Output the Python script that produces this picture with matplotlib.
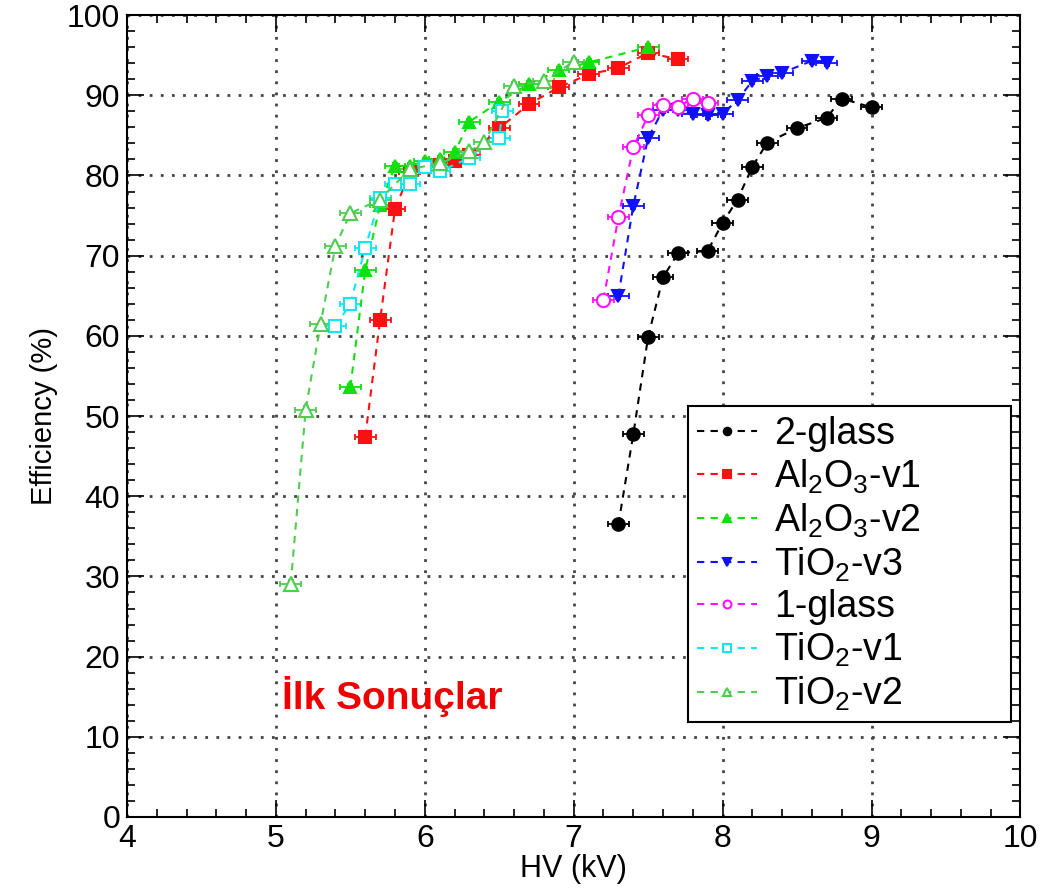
import matplotlib
matplotlib.use("Agg")
import matplotlib.pyplot as plt
from matplotlib.ticker import MultipleLocator

plt.rcParams['font.family'] = ['Liberation Sans', 'DejaVu Sans']
plt.rcParams['mathtext.fontset'] = 'custom'
plt.rcParams['mathtext.rm'] = 'Liberation Sans'

# ---- data ----
glass2_hv = [7.3, 7.4, 7.5, 7.6, 7.7, 7.9, 8.0, 8.1, 8.2, 8.3, 8.5, 8.7, 8.8, 9.0]
glass2_eff = [36.5, 47.7, 59.9, 67.3, 70.3, 70.6, 74.1, 77.0, 81.1, 84.1, 85.9, 87.2, 89.6, 88.5]

al1_hv = [5.6, 5.7, 5.8, 5.9, 6.0, 6.1, 6.2, 6.3, 6.5, 6.7, 6.9, 7.1, 7.3, 7.5, 7.7]
al1_eff = [47.4, 62.0, 75.8, 80.4, 81.0, 81.3, 81.8, 82.5, 85.9, 88.9, 91.0, 92.6, 93.4, 95.3, 94.5]

al2_hv = [5.5, 5.6, 5.7, 5.8, 5.9, 6.0, 6.1, 6.2, 6.3, 6.5, 6.7, 6.9, 7.1, 7.5]
al2_eff = [53.6, 68.2, 76.3, 81.2, 81.2, 81.8, 82.0, 82.9, 86.7, 89.2, 91.4, 93.1, 94.1, 96.0]

ti3_hv = [7.3, 7.4, 7.5, 7.6, 7.7, 7.8, 7.9, 8.0, 8.1, 8.2, 8.3, 8.4, 8.6, 8.7]
ti3_eff = [65.0, 76.2, 84.7, 88.2, 88.2, 87.7, 87.5, 87.7, 89.4, 91.8, 92.4, 92.8, 94.3, 94.0]

glass1_hv = [7.2, 7.3, 7.4, 7.5, 7.6, 7.7, 7.8, 7.9]
glass1_eff = [64.5, 74.8, 83.5, 87.5, 88.8, 88.6, 89.6, 89.0]

ti1_hv = [5.4, 5.5, 5.6, 5.7, 5.8, 5.9, 6.0, 6.1, 6.3, 6.5, 6.52]
ti1_eff = [61.2, 64.0, 71.0, 77.2, 78.9, 79.0, 81.0, 80.5, 82.2, 84.7, 88.0]

ti2_hv = [5.1, 5.2, 5.3, 5.4, 5.5, 5.7, 5.9, 6.1, 6.3, 6.4, 6.6, 6.8, 7.0]
ti2_eff = [29.1, 50.8, 61.5, 71.2, 75.3, 77.0, 80.8, 81.5, 83.0, 84.2, 91.2, 91.8, 94.2]

labels = ['2-glass',
          r'Al$_\mathregular{2}$O$_\mathregular{3}$-v1',
          r'Al$_\mathregular{2}$O$_\mathregular{3}$-v2',
          r'TiO$_\mathregular{2}$-v3',
          '1-glass',
          r'TiO$_\mathregular{2}$-v1',
          r'TiO$_\mathregular{2}$-v2']

series = [(glass2_hv, glass2_eff), (al1_hv, al1_eff), (al2_hv, al2_eff),
          (ti3_hv, ti3_eff), (glass1_hv, glass1_eff), (ti1_hv, ti1_eff),
          (ti2_hv, ti2_eff)]

styles = [
    dict(color='black', marker='o', mfc='black', ms=9),
    dict(color='#ff1010', marker='s', mfc='#ff1010', ms=8.5),
    dict(color='#10e010', marker='^', mfc='#10e010', ms=9),
    dict(color='#1010ff', marker='v', mfc='#1010ff', ms=9),
    dict(color='#ff10ff', marker='o', mfc='white', ms=9.5),
    dict(color='#10e8f0', marker='s', mfc='white', ms=9),
    dict(color='#50cc50', marker='^', mfc='white', ms=10),
]

fig = plt.figure(figsize=(10.45, 8.89), dpi=100)
ax = fig.add_axes([0.1215, 0.081, 0.855, 0.902])

handles = []
for (hv, eff), st, lab in zip(series, styles, labels):
    c = st['color']
    ax.errorbar(hv, eff, xerr=0.07, yerr=0.4, fmt='none', ecolor=c,
                elinewidth=1.3, capsize=2.5, capthick=1.3, zorder=3)
    h, = ax.plot(hv, eff, linestyle=(0, (3.5, 3)), linewidth=1.5, color=c,
                 marker=st['marker'], markersize=st['ms'],
                 markerfacecolor=st['mfc'], markeredgecolor=c,
                 markeredgewidth=1.5, label=lab, zorder=4)
    handles.append(h)

ax.set_xlim(4, 10)
ax.set_ylim(0, 100)
ax.xaxis.set_major_locator(MultipleLocator(1))
ax.xaxis.set_minor_locator(MultipleLocator(0.2))
ax.yaxis.set_major_locator(MultipleLocator(10))
ax.yaxis.set_minor_locator(MultipleLocator(2))
ax.tick_params(which='both', direction='in', top=True, right=True,
               labelsize=23, width=1.2)
ax.tick_params(which='major', length=12, pad=5)
ax.tick_params(which='minor', length=6)
for s in ax.spines.values():
    s.set_linewidth(1.5)

ax.grid(True, which='major', linestyle=(0, (1, 3)), linewidth=2.0,
        color='#444444', zorder=0)
ax.set_axisbelow(True)

ax.set_xlabel('HV (kV)', fontsize=22, labelpad=0)
ax.set_ylabel('Efficiency (%)', fontsize=21, labelpad=6)

ax.text(5.78, 15.0, 'İlk Sonuçlar', color='#ee0000', fontsize=28,
        fontweight='bold', ha='center', va='center')

leg = ax.legend(handles=handles, loc='lower left',
                bbox_to_anchor=(0.628, 0.118, 0.361, 0.389), mode='expand',
                fontsize=27, frameon=True, fancybox=False, framealpha=1,
                edgecolor='black', borderpad=0.25, labelspacing=0.15,
                handlelength=1.6, handletextpad=0.45, markerscale=0.6,
                borderaxespad=0)
leg.get_frame().set_linewidth(1.5)

fig.savefig('out.png', dpi=100)
